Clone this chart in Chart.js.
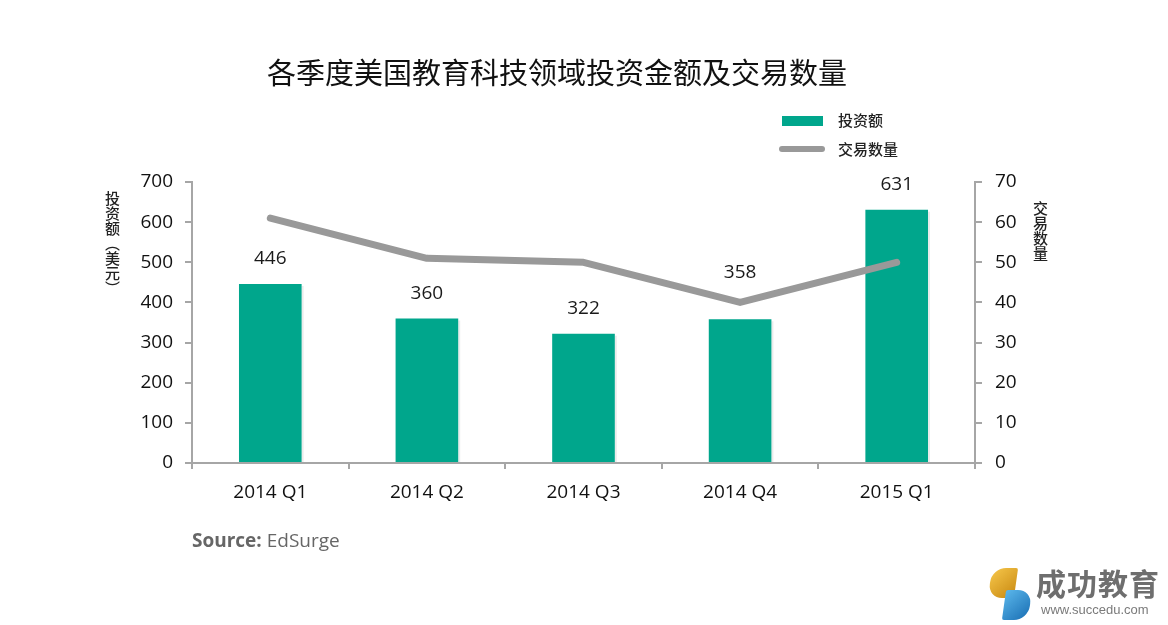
<!DOCTYPE html>
<html>
<head>
<meta charset="utf-8">
<script src="https://cdn.jsdelivr.net/npm/chart.js@4.4.1/dist/chart.umd.min.js"></script>
<style>
  html, body { margin: 0; padding: 0; background: #fff; }
  #wrap { position: relative; width: 1168px; height: 625px; overflow: hidden; background: #fff; }
  #c { position: absolute; left: 0; top: 0; }
  .abs { position: absolute; white-space: nowrap; }
  .cjk { font-family: "Noto Sans CJK SC", "Noto Sans", sans-serif; }
  #title { left: 0; width: 1114px; top: 50px; text-align: center; font-size: 29px; color: #111; line-height: 42px; }
  .legtxt { font-size: 15px; color: #222; font-weight: 500; line-height: 20px; }
  .vt { writing-mode: vertical-rl; font-size: 15px; color: #222; font-weight: 500; line-height: 16px; }
  #source { left: 192px; top: 527px; font-family: "Open Sans", sans-serif; font-size: 19px; color: #666; }
  #logo-text { left: 1036px; top: 562px; font-size: 30px; font-weight: 700; color: #6e6e6e; line-height: 40px; letter-spacing: 1px; }
  #logo-url { left: 1041px; top: 602px; font-family: "Liberation Sans", Arial, sans-serif; font-size: 13px; color: #7a7a7a; }
</style>
</head>
<body>
<div id="wrap">
  <canvas id="c" width="1168" height="625"></canvas>
  <div id="title" class="abs cjk">各季度美国教育科技领域投资金额及交易数量</div>

  <div class="abs" style="left:782px;top:116px;width:41px;height:10px;background:#00A68C;"></div>
  <div class="abs cjk legtxt" style="left:838px;top:110px;">投资额</div>
  <div class="abs" style="left:779px;top:146px;width:46px;height:6px;background:#999;border-radius:3px;"></div>
  <div class="abs cjk legtxt" style="left:838px;top:139px;">交易数量</div>

  <div class="abs cjk vt" style="left:104px;top:191px;">投资额（美元）</div>
  <div class="abs cjk vt" style="left:1032px;top:201px;">交易数量</div>

  <div id="source" class="abs"><b>Source:</b> EdSurge</div>

  <div class="abs" style="left:990px;top:568px;width:26px;height:30px;border-radius:14px 2px 2px 14px;background:linear-gradient(135deg,#f6c64a,#c98a12);transform:skewX(-8deg);"></div>
  <div class="abs" style="left:1004px;top:590px;width:26px;height:30px;border-radius:2px 14px 14px 2px;background:linear-gradient(135deg,#5ab6ea,#1a6fb4);transform:skewX(-8deg);"></div>
  <div id="logo-text" class="abs cjk">成功教育</div>
  <div id="logo-url" class="abs">www.succedu.com</div>
</div>
<script>
const categories = ['2014 Q1', '2014 Q2', '2014 Q3', '2014 Q4', '2015 Q1'];
const investment = [446, 360, 322, 358, 631];
const dealCount = [61, 51, 50, 40, 50];
const leftTicks = [0, 100, 200, 300, 400, 500, 600, 700];
const rightTicks = [0, 10, 20, 30, 40, 50, 60, 70];

const AXIS = '#a6a6a6';
const tickFont = { family: '"Open Sans", sans-serif', size: 19 };

const barLabels = {
  id: 'barLabels',
  afterDatasetsDraw(chart) {
    const meta = chart.getDatasetMeta(1);
    const lineMeta = chart.getDatasetMeta(0);
    const ctx = chart.ctx;
    ctx.save();
    ctx.font = '19px "Open Sans", sans-serif';
    ctx.fillStyle = '#1a1a1a';
    ctx.textAlign = 'center';
    ctx.textBaseline = 'middle';
    meta.data.forEach((el, i) => {
      let y = el.y - 25;
      const lp = lineMeta.data[i];
      if (lp && Math.abs(lp.y - y) < 22) {
        y = lp.y - 30;
      }
      ctx.fillText(String(investment[i]), el.x, y);
    });
    ctx.restore();
  }
};

const barShadow = {
  id: 'barShadow',
  beforeDatasetsDraw(chart) {
    const meta = chart.getDatasetMeta(1);
    const ctx = chart.ctx;
    ctx.save();
    ctx.fillStyle = 'rgba(0,0,0,0.08)';
    meta.data.forEach(el => {
      const w = el.width;
      ctx.fillRect(el.x + w / 2, el.y + 2, 2, el.base - el.y - 2);
    });
    ctx.restore();
  }
};

new Chart(document.getElementById('c'), {
  type: 'bar',
  data: {
    labels: categories,
    datasets: [
      {
        type: 'line',
        label: '交易数量',
        data: dealCount,
        yAxisID: 'y1',
        borderColor: '#999999',
        borderWidth: 7,
        borderCapStyle: 'round',
        borderJoinStyle: 'round',
        pointRadius: 0,
        tension: 0,
        fill: false,
        order: 0
      },
      {
        type: 'bar',
        label: '投资额',
        data: investment,
        yAxisID: 'y',
        backgroundColor: '#00A68C',
        barPercentage: 0.4,
        categoryPercentage: 1,
        order: 1
      }
    ]
  },
  options: {
    responsive: false,
    animation: false,
    layout: { padding: { top: 182, left: 0, right: 0, bottom: 0 } },
    plugins: { legend: { display: false }, title: { display: false }, tooltip: { enabled: false } },
    scales: {
      x: {
        offset: true,
        grid: { display: true, drawOnChartArea: false, drawTicks: true, tickLength: 6, color: AXIS, lineWidth: 2, offset: true },
        border: { color: AXIS, width: 2 },
        ticks: { font: tickFont, color: '#111', padding: 12, maxRotation: 0 },
        afterFit(s) { s.height = 625 - 463; }
      },
      y: {
        position: 'left',
        min: 0, max: 700,
        afterBuildTicks(s) { s.ticks = leftTicks.map(v => ({ value: v })); },
        grid: { display: true, drawOnChartArea: false, drawTicks: true, tickLength: 7, color: AXIS, lineWidth: 2 },
        border: { color: AXIS, width: 2 },
        ticks: { font: tickFont, color: '#111', padding: 12 },
        afterFit(s) { s.width = 192; }
      },
      y1: {
        position: 'right',
        min: 0, max: 70,
        afterBuildTicks(s) { s.ticks = rightTicks.map(v => ({ value: v })); },
        grid: { display: true, drawOnChartArea: false, drawTicks: true, tickLength: 7, color: AXIS, lineWidth: 2 },
        border: { color: AXIS, width: 2 },
        ticks: { font: tickFont, color: '#111', padding: 13 },
        afterFit(s) { s.width = 1168 - 975; }
      }
    }
  },
  plugins: [barShadow, barLabels]
});
</script>
</body>
</html>
